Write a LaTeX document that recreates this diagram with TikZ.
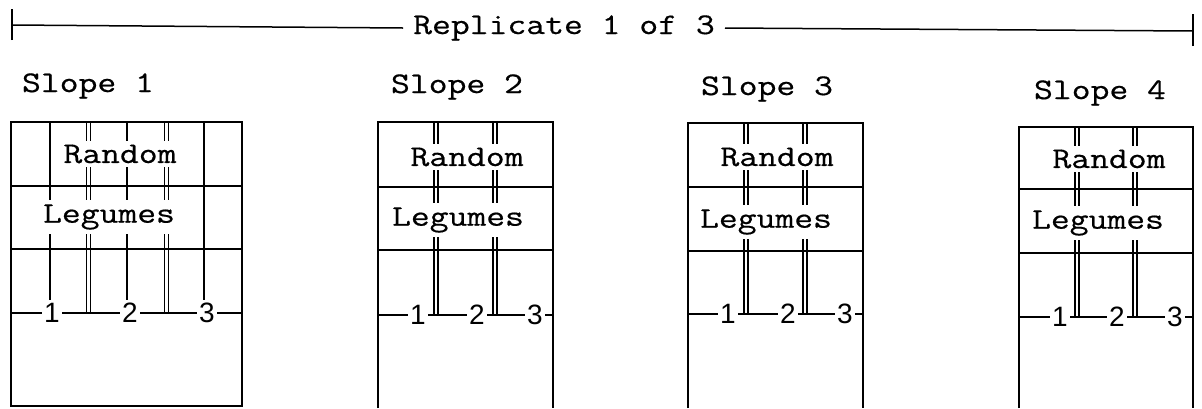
\documentclass[tikz,border=0pt]{standalone}
\usepackage{fontspec}
\setmonofont{Latin Modern Mono}[FakeStretch=1.22, FakeBold=0.5]
\setsansfont{Liberation Sans}
\begin{document}
\begin{tikzpicture}[x=1pt,y=-1pt,
  frame/.style={line width=1.7pt},
  divider/.style={line width=1.5pt},
  post/.style={line width=1.4pt},
  twin/.style={double, line width=1.4pt, double distance=2.6pt},
  lab/.style={font=\fontsize{30}{30}\selectfont\ttfamily, fill=white, inner xsep=4pt, inner ysep=4pt},
  head/.style={font=\fontsize{30}{30}\selectfont\ttfamily, inner sep=0pt},
  num/.style={font=\fontsize{28}{28}\selectfont\sffamily, fill=white, inner xsep=2pt, inner ysep=3pt},
  span/.style={line width=1.5pt}]
\useasboundingbox (0,0) rectangle (1202,408);

% ---- span over the whole replicate ----
\coordinate (rl) at (12,25);
\coordinate (rr) at (1193,31);
\node[lab, fill=none, inner xsep=10pt] (rep) at (564,28) {Replicate 1 of 3};
\draw[span] (rl) -- (rep.west);
\draw[span] (rep.east) -- (rr);
\draw[frame] ([yshift=-15]rl) -- ([yshift=16]rl);
\draw[frame] ([yshift=-15]rr) -- ([yshift=17]rr);

% ---- Slope 1 (closed strip) ----
\node[head] (s1) at (88,86) {Slope 1};
\draw[twin] (88.5,122) -- (88.5,313);
\draw[twin] (166.5,122) -- (166.5,313);
\draw[frame] (11,122) rectangle (242,406);
\draw[divider] (11,186) -- (242,186);
\draw[divider] (11,249) -- (242,249);
\draw[post] (50,122) -- (50,313);
\draw[post] (127,122) -- (127,313);
\draw[post] (204,122) -- (204,313);
\draw[divider] (11,313) -- (242,313);
\node[lab] (r1) at (120,154) {Random};
\node[lab] (g1) at (109,217) {Legumes};
\node[num] (a1) at (52,313) {1};
\node[num] (b1) at (130,313) {2};
\node[num] (c1) at (207,313) {3};

% ---- Slope 2 ----
\node[head] (s2) at (457,87) {Slope 2};
\draw[twin] (436,122) -- (436,315);
\draw[twin] (495,122) -- (495,315);
\draw[frame] (378,408) -- (378,122) -- (553,122) -- (553,408);
\draw[divider] (378,187) -- (553,187);
\draw[divider] (378,250) -- (553,250);
\draw[divider] (378,315) -- (553,315);
\node[lab] (r2) at (467,157) {Random};
\node[lab] (g2) at (458,220) {Legumes};
\node[num] (a2) at (418,315) {1};
\node[num] (b2) at (477,315) {2};
\node[num] (c2) at (535,315) {3};

% ---- Slope 3 ----
\node[head] (s3) at (767,89) {Slope 3};
\draw[twin] (746,123) -- (746,314);
\draw[twin] (805,123) -- (805,314);
\draw[frame] (688,408) -- (688,123) -- (863,123) -- (863,408);
\draw[divider] (688,187) -- (863,187);
\draw[divider] (688,251) -- (863,251);
\draw[divider] (688,314) -- (863,314);
\node[lab] (r3) at (777,157) {Random};
\node[lab] (g3) at (766,222) {Legumes};
\node[num] (a3) at (728,314) {1};
\node[num] (b3) at (788,314) {2};
\node[num] (c3) at (845,314) {3};

% ---- Slope 4 ----
\node[head] (s4) at (1100,93) {Slope 4};
\draw[twin] (1077,127) -- (1077,317);
\draw[twin] (1135,127) -- (1135,317);
\draw[frame] (1019,408) -- (1019,127) -- (1193,127) -- (1193,408);
\draw[divider] (1019,189) -- (1193,189);
\draw[divider] (1019,253) -- (1193,253);
\draw[divider] (1019,317) -- (1193,317);
\node[lab] (r4) at (1109,159) {Random};
\node[lab] (g4) at (1098,223) {Legumes};
\node[num] (a4) at (1060,317) {1};
\node[num] (b4) at (1117,317) {2};
\node[num] (c4) at (1175,317) {3};
\end{tikzpicture}
\end{document}
